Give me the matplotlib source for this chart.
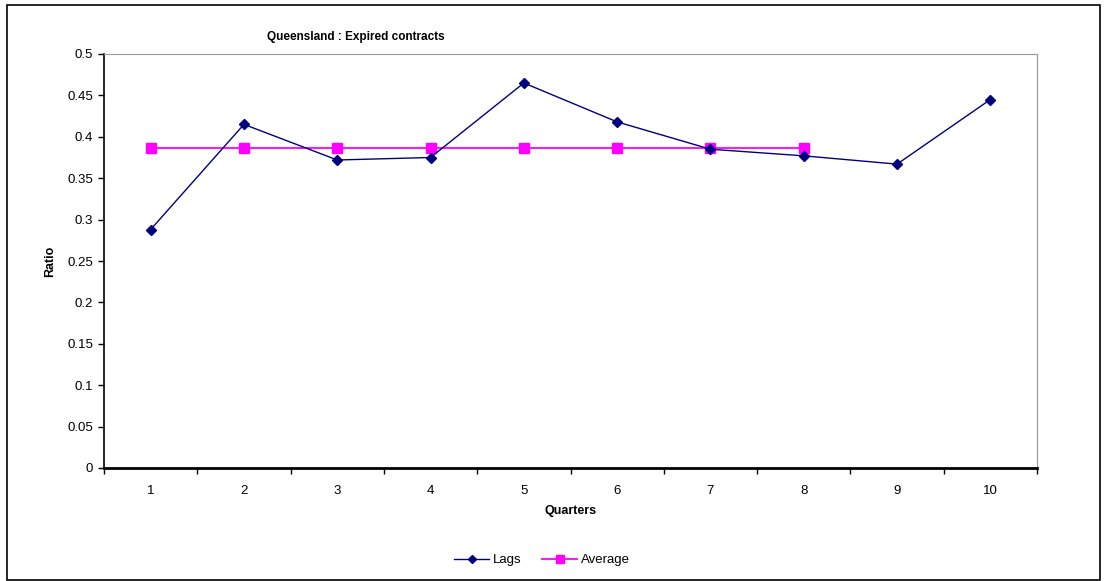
import matplotlib.pyplot as plt
import matplotlib.patches as mpatches
import numpy as np

plt.rcParams['font.family'] = ['Liberation Sans', 'DejaVu Sans']

quarters = [1, 2, 3, 4, 5, 6, 7, 8, 9, 10]
lags = [0.288, 0.415, 0.372, 0.375, 0.465, 0.418, 0.385, 0.377, 0.367, 0.445]
avg_quarters = [1, 2, 3, 4, 5, 6, 7, 8]
average = [0.387, 0.387, 0.387, 0.387, 0.387, 0.387, 0.387, 0.387]
y_ticks = [0, 0.05, 0.1, 0.15, 0.2, 0.25, 0.3, 0.35, 0.4, 0.45, 0.5]

W, H = 1107, 581
fig = plt.figure(figsize=(W / 100, H / 100), dpi=100)
# plot area in pixel coords: left 104, right 1037, top 54, bottom 468
ax = fig.add_axes([104 / W, 1 - 468 / H, (1037 - 104) / W, (468 - 54) / H])

# outer chart border
fig.patches.append(mpatches.Rectangle((7 / W, 1 / H), (1100 - 7) / W, (576 - 1) / H,
                                      transform=fig.transFigure, fill=False,
                                      edgecolor='black', linewidth=1.2))

ax.plot(quarters, lags, color='#000080', marker='D', markersize=5, linewidth=1,
        label='Lags', zorder=3)
ax.plot(avg_quarters, average, color='#FF00FF', marker='s', markersize=7, linewidth=1.3,
        label='Average', zorder=2)

ax.set_xlim(0.5, 10.5)
ax.set_ylim(0, 0.5)
ax.set_yticks(y_ticks)
ax.set_yticklabels(['0', '0.05', '0.1', '0.15', '0.2', '0.25', '0.3', '0.35', '0.4', '0.45', '0.5'])
ax.set_xticks(quarters)
ax.set_xticklabels([str(q) for q in quarters])
ax.set_xticks(np.arange(0.5, 11, 1), minor=True)
ax.tick_params(axis='x', which='major', length=0, pad=12, labelsize=9.5)
ax.tick_params(axis='x', which='minor', length=4, width=1, direction='out')
ax.tick_params(axis='y', length=4, width=1, direction='out', labelsize=9.5, pad=4)

ax.spines['top'].set_color('#999999')
ax.spines['right'].set_color('#999999')
ax.spines['left'].set_color('black')
ax.spines['left'].set_linewidth(1.2)
ax.spines['bottom'].set_color('black')
ax.spines['bottom'].set_linewidth(2)

ax.set_xlabel('Quarters', fontsize=9, fontweight='bold', labelpad=6)
ax.set_ylabel('Ratio', fontsize=9, fontweight='bold', labelpad=8)

fig.text(356 / W, 1 - 37 / H, 'Queensland : Expired contracts', fontsize=8.5,
         fontweight='bold', ha='center', va='center')

fig.legend(loc='center', bbox_to_anchor=(542 / W, 1 - 560 / H), ncol=2, frameon=False,
           fontsize=9.5, handlelength=2.6, columnspacing=1.6, handletextpad=0.3,
           markerscale=0.75)

fig.savefig('out.png', dpi=100)
